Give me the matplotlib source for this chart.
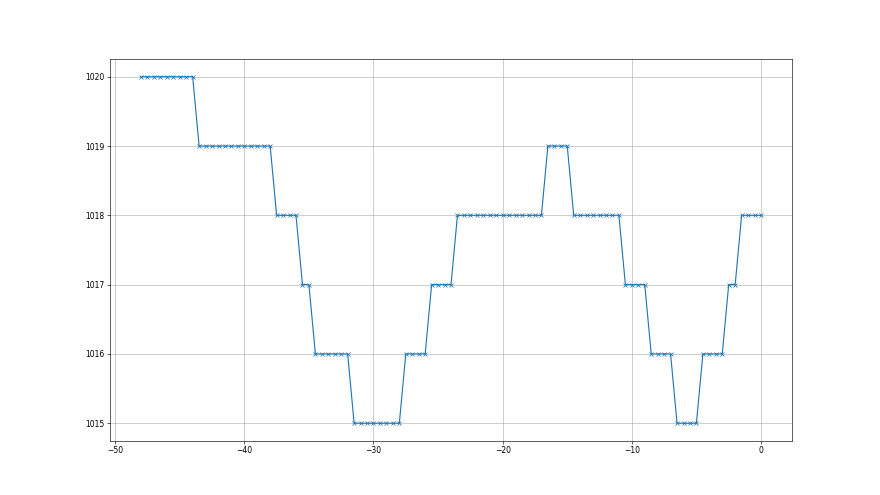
import numpy as np
import matplotlib
matplotlib.use('Agg')
import matplotlib.pyplot as plt

# ore prima dell'ultima lettura, passo di mezz'ora
ore = np.arange(-48, 0.5, 0.5)

# pressione (hPa)
pressione = [
    1020, 1020, 1020, 1020, 1020, 1020, 1020, 1020, 1020,
    1019, 1019, 1019, 1019, 1019, 1019, 1019, 1019, 1019, 1019, 1019, 1019,
    1018, 1018, 1018, 1018,
    1017, 1017,
    1016, 1016, 1016, 1016, 1016, 1016,
    1015, 1015, 1015, 1015, 1015, 1015, 1015, 1015,
    1016, 1016, 1016, 1016,
    1017, 1017, 1017, 1017,
    1018, 1018, 1018, 1018, 1018, 1018, 1018, 1018, 1018, 1018, 1018, 1018, 1018, 1018,
    1019, 1019, 1019, 1019,
    1018, 1018, 1018, 1018, 1018, 1018, 1018, 1018,
    1017, 1017, 1017, 1017,
    1016, 1016, 1016, 1016,
    1015, 1015, 1015, 1015,
    1016, 1016, 1016, 1016,
    1017, 1017,
    1018, 1018, 1018, 1018,
]

plt.figure(figsize = (16, 9), dpi = 55)
plt.plot(ore, pressione, marker = 'x')
plt.grid()
plt.savefig('out.png', dpi = 55)
